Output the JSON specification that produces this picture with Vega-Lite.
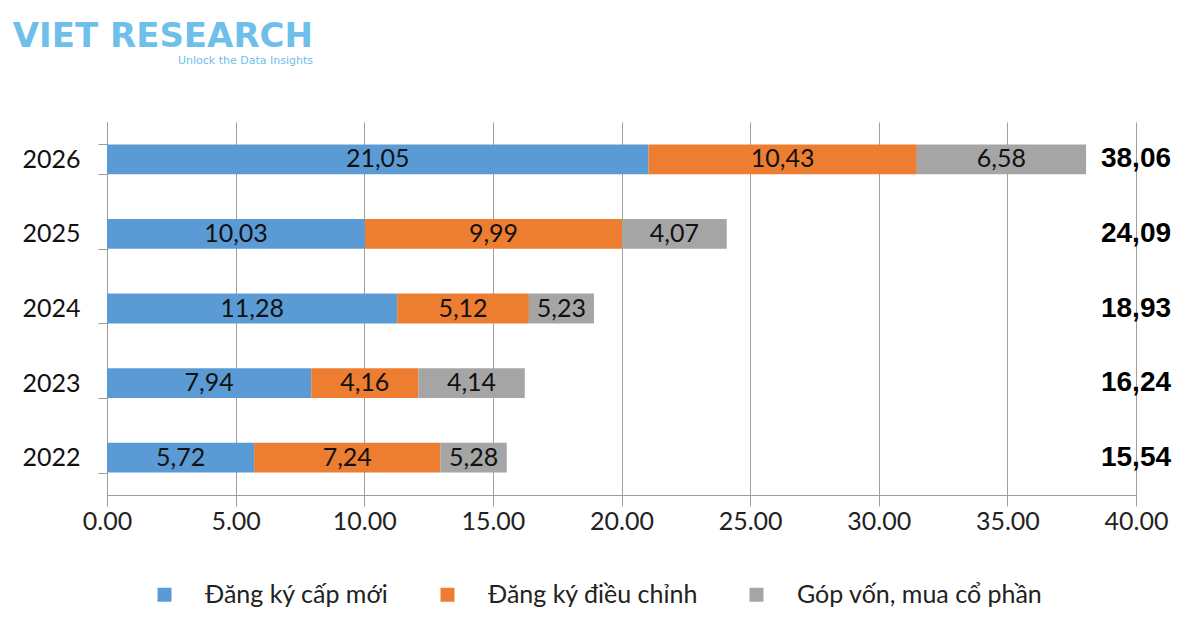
{
  "$schema": "https://vega.github.io/schema/vega-lite/v6.json",
  "width": 1029,
  "height": 373,
  "autosize": {"type": "none"},
  "padding": {"left": 107, "top": 122, "right": 60, "bottom": 135},
  "background": "#ffffff",
  "title": {
    "text": "VIET RESEARCH",
    "subtitle": "Unlock the Data Insights",
    "anchor": "start",
    "align": "right",
    "frame": "group",
    "dx": 206,
    "offset": 44,
    "font": "DejaVu Sans",
    "fontSize": 34,
    "fontWeight": "bold",
    "color": "#6ec0ea",
    "subtitleFont": "DejaVu Sans",
    "subtitleFontSize": 11,
    "subtitleColor": "#6ec0ea",
    "subtitlePadding": 1
  },
  "datasets": {
    "segments": [
      {"year": "2026", "type": "Đăng ký cấp mới", "idx": 1, "value": 21.05, "label": "21,05"},
      {"year": "2026", "type": "Đăng ký điều chỉnh", "idx": 2, "value": 10.43, "label": "10,43"},
      {"year": "2026", "type": "Góp vốn, mua cổ phần", "idx": 3, "value": 6.58, "label": "6,58"},
      {"year": "2025", "type": "Đăng ký cấp mới", "idx": 1, "value": 10.03, "label": "10,03"},
      {"year": "2025", "type": "Đăng ký điều chỉnh", "idx": 2, "value": 9.99, "label": "9,99"},
      {"year": "2025", "type": "Góp vốn, mua cổ phần", "idx": 3, "value": 4.07, "label": "4,07"},
      {"year": "2024", "type": "Đăng ký cấp mới", "idx": 1, "value": 11.28, "label": "11,28"},
      {"year": "2024", "type": "Đăng ký điều chỉnh", "idx": 2, "value": 5.12, "label": "5,12"},
      {"year": "2024", "type": "Góp vốn, mua cổ phần", "idx": 3, "value": 2.53, "label": "5,23"},
      {"year": "2023", "type": "Đăng ký cấp mới", "idx": 1, "value": 7.94, "label": "7,94"},
      {"year": "2023", "type": "Đăng ký điều chỉnh", "idx": 2, "value": 4.16, "label": "4,16"},
      {"year": "2023", "type": "Góp vốn, mua cổ phần", "idx": 3, "value": 4.14, "label": "4,14"},
      {"year": "2022", "type": "Đăng ký cấp mới", "idx": 1, "value": 5.72, "label": "5,72"},
      {"year": "2022", "type": "Đăng ký điều chỉnh", "idx": 2, "value": 7.24, "label": "7,24"},
      {"year": "2022", "type": "Góp vốn, mua cổ phần", "idx": 3, "value": 2.58, "label": "5,28"}
    ],
    "totals": [
      {"year": "2026", "total": 38.06, "label": "38,06"},
      {"year": "2025", "total": 24.09, "label": "24,09"},
      {"year": "2024", "total": 18.93, "label": "18,93"},
      {"year": "2023", "total": 16.24, "label": "16,24"},
      {"year": "2022", "total": 15.54, "label": "15,54"}
    ]
  },
  "layer": [
    {
      "data": {"name": "segments"},
      "mark": {"type": "bar"},
      "encoding": {
        "y": {
          "field": "year",
          "type": "ordinal",
          "sort": "descending",
          "scale": {"paddingInner": 0.6, "paddingOuter": 0.3},
          "axis": {
            "title": null,
            "tickBand": "extent",
            "tickSize": 9,
            "labelPadding": 18,
            "labelFont": "Lato",
            "labelFontSize": 25,
            "labelColor": "#111111",
            "domainColor": "#9e9e9e",
            "tickColor": "#9e9e9e",
            "grid": false
          }
        },
        "x": {
          "field": "value",
          "type": "quantitative",
          "stack": "zero",
          "scale": {"domain": [0, 40], "nice": false},
          "axis": {
            "title": null,
            "values": [0, 5, 10, 15, 20, 25, 30, 35, 40],
            "format": ".2f",
            "labelFont": "Lato",
            "labelFontSize": 25,
            "labelColor": "#222222",
            "labelPadding": 3,
            "tickSize": 11,
            "tickColor": "#9e9e9e",
            "domainColor": "#9e9e9e",
            "grid": true,
            "gridColor": "#a0a0a0",
            "labelFlush": false
          }
        },
        "color": {
          "field": "type",
          "type": "nominal",
          "scale": {
            "domain": ["Đăng ký cấp mới", "Đăng ký điều chỉnh", "Góp vốn, mua cổ phần"],
            "range": ["#5b9bd5", "#ed7d31", "#a5a5a5"]
          },
          "legend": {
            "title": null,
            "orient": "none",
            "direction": "horizontal",
            "legendX": 45,
            "legendY": 460,
            "symbolType": "square",
            "symbolSize": 196,
            "symbolStrokeWidth": 0,
            "labelFont": "Lato",
            "labelFontSize": 25,
            "labelColor": "#222222",
            "labelLimit": 0,
            "labelOffset": 28,
            "columnPadding": 46
          }
        },
        "order": {"field": "idx", "type": "quantitative"}
      }
    },
    {
      "data": {"name": "segments"},
      "transform": [
        {"stack": "value", "groupby": ["year"], "sort": [{"field": "idx"}], "as": ["v0", "v1"]},
        {"fold": ["v0", "v1"], "as": ["edge", "pos"]}
      ],
      "mark": {"type": "text", "font": "Lato", "fontSize": 25, "color": "#111111", "align": "center", "baseline": "middle"},
      "encoding": {
        "y": {"field": "year", "type": "ordinal", "sort": "descending"},
        "x": {"aggregate": "mean", "field": "pos", "type": "quantitative"},
        "detail": {"field": "idx", "type": "nominal"},
        "text": {"field": "label", "type": "nominal"}
      }
    },
    {
      "data": {"name": "totals"},
      "mark": {"type": "text", "font": "Liberation Sans", "fontWeight": "bold", "fontSize": 28, "color": "#000000", "align": "center", "baseline": "middle"},
      "encoding": {
        "y": {"field": "year", "type": "ordinal", "sort": "descending"},
        "x": {"datum": 40},
        "text": {"field": "label"}
      }
    }
  ],
  "config": {
    "view": {"stroke": null}
  }
}
